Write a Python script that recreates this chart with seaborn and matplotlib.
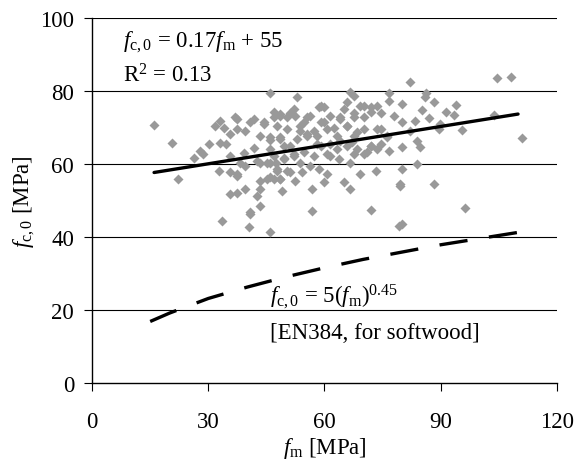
import matplotlib
matplotlib.use("Agg")
import matplotlib.pyplot as plt
import seaborn as sns

# ---- data ----
fm = [82.2, 104.5, 108.1, 111.1, 103.7, 95.6, 94.1, 93.4, 91.3, 88.3, 86.1, 85.9, 85.3, 87.0, 83.5,
      89.8, 89.6, 80.1, 80.1, 80.1, 83.8, 84.6, 83.8, 80.1, 88.3, 79.6, 96.2, 80.1, 82.0,
      16.0, 20.6, 22.3, 26.2, 27.9, 30.1, 28.6, 33.1, 31.8, 34.0, 33.1, 35.7, 37.0, 37.4, 32.7,
      35.7, 37.4, 35.7, 37.4, 33.5, 34.5,
      46.0, 52.8, 58.5, 41.7, 44.3, 39.6, 46.9, 48.6, 50.3, 52.5, 55.5, 53.8, 55.5, 57.2, 43.4,
      46.0, 48.6, 41.7, 39.6, 42.6, 45.2, 47.5, 49.5, 52.1, 47.8, 50.3, 46.0, 48.6, 43.4, 52.5,
      54.2, 56.8, 43.4, 39.6, 49.0, 40.9, 40.4, 46.0, 56.8, 58.1, 39.3,
      67.6, 76.6, 76.6, 65.9, 70.2, 72.0, 59.8, 64.1, 67.6, 70.2, 74.5, 77.9, 59.8, 62.4, 65.9,
      68.4, 73.6, 76.2, 61.5, 64.1, 67.2, 71.9, 74.5, 76.6, 60.7, 67.6, 70.2, 63.7, 66.7, 60.7,
      69.3, 73.4, 65.0, 66.7, 60.0, 72.1, 79.2, 79.5,
      48.6, 51.2, 47.8, 50.3, 53.8, 55.5, 52.9, 49.5, 46.9, 49.5, 52.1, 54.6, 57.2, 47.8, 51.2,
      59.0, 60.7, 63.3, 65.9, 67.6, 70.2, 71.9, 67.6, 65.0, 61.5, 59.0, 61.5, 56.4, 58.5, 46.9,
      46.0, 37.4, 40.9, 44.3,
      46.9, 56.4, 58.1, 48.6, 51.2, 53.8, 48.6, 63.3, 65.9, 68.4, 71.0, 73.6, 74.5, 76.2, 66.7,
      71.9, 73.6, 69.3, 64.1, 59.0, 52.1, 54.6, 46.0, 46.0,
      35.7, 38.3, 37.4, 43.4, 45.2, 42.6, 43.4, 40.9]
fc = [82.5, 83.6, 83.9, 67.1, 73.4, 69.3, 76.2, 73.5, 74.3, 76.9, 79.4, 78.4, 74.8, 72.6, 71.7,
      71.1, 69.6, 76.4, 71.4, 64.7, 66.4, 64.7, 60.0, 58.6, 54.5, 54.5, 47.9, 43.6, 69.0,
      70.8, 65.9, 55.9, 61.6, 63.6, 65.5, 62.8, 71.9, 70.5, 70.0, 65.9, 68.2, 72.8, 69.5, 58.2,
      57.7, 57.4, 51.8, 52.2, 44.5, 65.5,
      79.6, 78.5, 75.5, 72.3, 71.1, 69.1, 72.8, 73.7, 72.8, 73.2, 72.8, 69.1, 68.2, 69.1, 67.8,
      67.3, 67.3, 64.5, 59.5, 60.9, 60.4, 60.2, 61.8, 62.7, 58.2, 58.2, 56.4, 55.9, 55.4, 55.4,
      57.7, 53.2, 53.2, 53.2, 52.7, 46.3, 42.7, 41.3, 47.2, 65.5, 63.0,
      78.7, 79.6, 77.3, 76.9, 76.0, 75.5, 75.5, 72.8, 72.8, 72.8, 74.1, 73.2, 71.4, 70.0, 70.5,
      68.7, 69.6, 67.3, 65.5, 66.4, 66.0, 65.0, 65.5, 63.6, 62.7, 62.7, 62.7, 61.4, 60.4, 57.3,
      57.3, 58.2, 55.0, 53.2, 55.0, 47.4, 43.1, 54.0,
      73.2, 74.1, 70.5, 69.6, 70.5, 67.8, 66.8, 65.0, 62.3, 61.4, 62.3, 63.2, 62.3, 58.6, 57.7,
      71.4, 69.6, 67.8, 70.5, 67.8, 69.6, 65.0, 74.1, 75.0, 73.2, 65.0, 62.3, 59.5, 58.6, 55.9,
      66.5, 72.3, 71.4, 71.4,
      74.2, 73.2, 67.8, 66.8, 65.0, 60.4, 55.9, 64.1, 65.0, 64.1, 63.2, 64.1, 69.6, 67.8, 79.7,
      74.2, 76.0, 76.0, 72.3, 76.0, 75.0, 71.4, 60.4, 64.1,
      62.3, 60.4, 56.8, 60.4, 55.9, 51.3, 48.6, 46.8]

trend_x = [16, 110]
trend_y = [57.7, 73.7]

en_x = [15, 20, 30, 40, 50, 60, 70, 80, 90, 100, 113]
en_y = [16.9, 19.2, 23.2, 26.3, 29.1, 31.6, 33.9, 35.9, 37.9, 39.6, 41.8]

x_ticks = [0, 30, 60, 90, 120]
y_ticks = [0, 20, 40, 60, 80, 100]

# ---- styling ----
sns.set_theme(style="ticks")
plt.rcParams["font.family"] = ["Liberation Serif", "DejaVu Serif"]
plt.rcParams["mathtext.fontset"] = "custom"
plt.rcParams["mathtext.rm"] = "Liberation Serif"
plt.rcParams["mathtext.it"] = "Liberation Serif:italic"
plt.rcParams["text.color"] = "black"
plt.rcParams["axes.labelcolor"] = "black"
plt.rcParams["xtick.color"] = "black"
plt.rcParams["ytick.color"] = "black"

FS = 16.5

fig = plt.figure(figsize=(5.83, 4.64), dpi=100)
ax = fig.add_axes([0.158, 0.172, 0.797, 0.787])

for yv in y_ticks[1:]:
    ax.axhline(yv, color="black", lw=0.8, zorder=0)

sns.scatterplot(x=fm, y=fc, ax=ax, marker="D", s=26, color="#999999",
                linewidth=0, zorder=2)
sns.lineplot(x=trend_x, y=trend_y, ax=ax, color="black", lw=2.4, zorder=3)
sns.lineplot(x=en_x, y=en_y, ax=ax, color="black", lw=2.4, zorder=3)
ax.lines[-1].set_dashes((8.5, 6.5))

ax.set_xlim(0, 120)
ax.set_ylim(0, 100)
ax.set_xticks(x_ticks)
ax.set_yticks(y_ticks)
ax.tick_params(axis="both", labelsize=FS, direction="out", length=6,
               width=0.8, colors="black")
ax.tick_params(axis="x", pad=14)
ax.tick_params(axis="y", pad=7)
for side in ["top", "right"]:
    ax.spines[side].set_visible(False)
for side in ["left", "bottom"]:
    ax.spines[side].set_color("black")
    ax.spines[side].set_linewidth(1.0)

ax.set_xlabel(r"$f_{\mathrm{m}}$ [MPa]", fontsize=FS, labelpad=2)
ax.set_ylabel(r"$f_{\mathrm{c,0}}$ [MPa]", fontsize=FS, labelpad=2)

ax.text(8, 93.5, r"$f_{\mathrm{c,0}}$ = 0.17$f_{\mathrm{m}}$ + 55", fontsize=FS,
        va="center", ha="left")
ax.text(8, 84.4, r"R$^{2}$ = 0.13", fontsize=FS, va="center", ha="left")
ax.text(46, 23.8, r"$f_{\mathrm{c,0}}$ = 5($f_{\mathrm{m}}$)$^{0.45}$", fontsize=FS,
        va="center", ha="left")
ax.text(46, 14.0, "[EN384, for softwood]", fontsize=FS, va="center", ha="left")

fig.savefig("out.png", dpi=100)
